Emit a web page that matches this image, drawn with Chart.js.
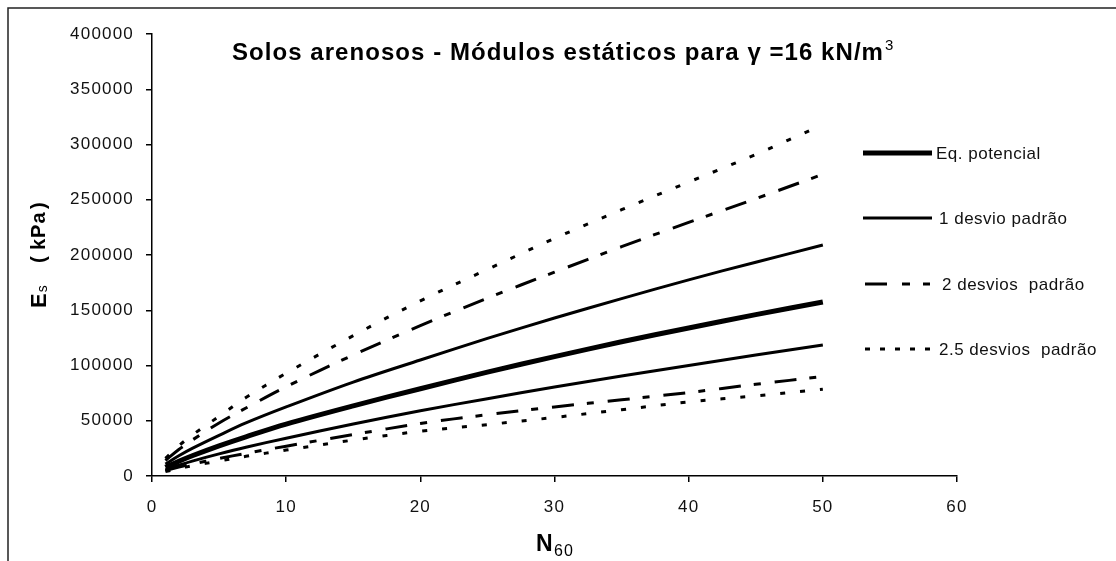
<!DOCTYPE html>
<html>
<head>
<meta charset="utf-8">
<script src="https://cdn.jsdelivr.net/npm/chart.js@4"></script>
<style>
  body { margin: 0; background: #fff; }
  #wrap { width: 1116px; height: 561px; }
</style>
</head>
<body>
<div id="wrap"><canvas id="chart" width="1116" height="561"></canvas></div>
<script>
"use strict";

// N60 values where the curves were read
const nValues = [1, 2, 3, 5, 7, 10, 15, 20, 25, 30, 35, 40, 45, 50];

// Es (kPa)
const eqPotencial = [7800, 13300, 18300, 27300, 35500, 47000, 63500, 79000, 94000, 108000, 121500, 134000, 146000, 157500];
const desvio1Sup = [10800, 18300, 25000, 36800, 48000, 62500, 85000, 105000, 124500, 143000, 160500, 177500, 193500, 209000];
const desvio1Inf = [5600, 9800, 13500, 20000, 26000, 34200, 47000, 59000, 70000, 80500, 90500, 100000, 109500, 118500];
const desvio2Sup = [14000, 24000, 32500, 48000, 61500, 80800, 109500, 136000, 161000, 184500, 207500, 229500, 251000, 273000];
const desvio2Inf = [5000, 8000, 10800, 15800, 20500, 27000, 37500, 47500, 55500, 62500, 69000, 75500, 83000, 90000];
const desvio25Sup = [16000, 27300, 37000, 54000, 71000, 93000, 127000, 158500, 187000, 215000, 241000, 266000, 291000, 318000];
const desvio25Inf = [4000, 6800, 9200, 13600, 17800, 23500, 32500, 40500, 46500, 53000, 60000, 67000, 72500, 78500];

const xTicks = [0, 10, 20, 30, 40, 50, 60];
const yTicks = [0, 50000, 100000, 150000, 200000, 250000, 300000, 350000, 400000];

const legendLabels = ['Eq. potencial', '1 desvio padrão', '2 desvios  padrão', '2.5 desvios  padrão'];

function pts(vals) {
  return vals.map((v, i) => ({ x: nValues[i], y: v }));
}

const dash2 = [22, 13, 7, 14];
const dash25 = [5, 15];

function ds(label, vals, width, dash, legendIdx) {
  return {
    label: label,
    data: pts(vals),
    borderColor: '#000',
    borderWidth: width,
    borderDash: dash,
    pointRadius: 0,
    fill: false,
    tension: 0.35,
    legendIdx: legendIdx
  };
}

const datasets = [
  ds(legendLabels[3], desvio25Sup, 3, dash25, 3),
  ds(legendLabels[2], desvio2Sup, 3, dash2, 2),
  ds(legendLabels[1], desvio1Sup, 3, [], 1),
  ds(legendLabels[0], eqPotencial, 5, [], 0),
  ds(legendLabels[1] + ' ', desvio1Inf, 3, [], -1),
  ds(legendLabels[2] + ' ', desvio2Inf, 3, dash2, -1),
  ds(legendLabels[3] + ' ', desvio25Inf, 3, dash25, -1)
];

const tickFont = { family: 'Liberation Sans, Arial, sans-serif', size: 17 };

const decorations = {
  id: 'decorations',
  beforeDraw(chart) {
    chart.ctx.letterSpacing = '1.2px';
  },
  afterDraw(chart) {
    const ctx = chart.ctx;
    ctx.save();
    ctx.fillStyle = '#000';

    // outer frame
    ctx.lineWidth = 1.5;
    ctx.strokeStyle = '#222';
    ctx.beginPath();
    ctx.moveTo(8, 561);
    ctx.lineTo(8, 8);
    ctx.lineTo(1116, 8);
    ctx.stroke();

    // title
    const main = 'Solos arenosos - Módulos estáticos para γ =16 kN/m';
    ctx.font = 'bold 24px Liberation Sans, Arial, sans-serif';
    ctx.letterSpacing = '0px';
    const w0 = ctx.measureText(main).width;
    const ls = Math.max(0, (652 - w0) / main.length);
    ctx.letterSpacing = ls + 'px';
    ctx.textBaseline = 'alphabetic';
    ctx.textAlign = 'left';
    ctx.fillText(main, 232, 60);
    ctx.letterSpacing = '0px';
    ctx.font = '15px Liberation Sans, Arial, sans-serif';
    ctx.fillText('3', 885, 50);

    // x axis title N60
    ctx.font = 'bold 23px Liberation Sans, Arial, sans-serif';
    ctx.fillText('N', 536, 551);
    ctx.font = '16px Liberation Sans, Arial, sans-serif';
    ctx.letterSpacing = '1px';
    ctx.fillText('60', 554, 556);

    // y axis title Es (kPa)
    ctx.save();
    ctx.translate(46, 308);
    ctx.rotate(-Math.PI / 2);
    ctx.letterSpacing = '0px';
    ctx.font = 'bold 22px Liberation Sans, Arial, sans-serif';
    ctx.fillText('E', 0, 0);
    const x = ctx.measureText('E').width + 1;
    ctx.font = '14px Liberation Sans, Arial, sans-serif';
    ctx.fillText('s', x, 1);
    ctx.font = 'bold 20px Liberation Sans, Arial, sans-serif';
    ctx.fillText('(', 45, -1);
    ctx.letterSpacing = '1px';
    ctx.fillText('kPa', 58, -1);
    ctx.letterSpacing = '0px';
    ctx.fillText(')', 99, -1);
    ctx.restore();

    // legend
    const rows = [
      { y: 153, x0: 863, tx: 936 },
      { y: 218, x0: 863, tx: 939 },
      { y: 284, x0: 865, tx: 942 },
      { y: 349, x0: 865, tx: 939 }
    ];
    ctx.font = '17px Liberation Sans, Arial, sans-serif';
    ctx.textBaseline = 'middle';
    chart.data.datasets.forEach(d => {
      if (d.legendIdx < 0) return;
      const r = rows[d.legendIdx];
      ctx.save();
      ctx.lineWidth = d.borderWidth;
      ctx.strokeStyle = '#000';
      if (d.legendIdx === 2) ctx.setLineDash([22, 15, 8, 13, 7, 20]);
      else if (d.legendIdx === 3) ctx.setLineDash([5, 10]);
      else ctx.setLineDash([]);
      ctx.beginPath();
      ctx.moveTo(r.x0, r.y);
      ctx.lineTo(932, r.y);
      ctx.stroke();
      ctx.restore();
      ctx.letterSpacing = '0.5px';
      ctx.fillStyle = '#111';
      ctx.fillText(d.label, r.tx, r.y + 1);
    });

    ctx.restore();
  }
};

new Chart(document.getElementById('chart'), {
  type: 'line',
  data: { datasets: datasets },
  options: {
    responsive: false,
    animation: false,
    devicePixelRatio: 1,
    layout: { padding: { top: 34, right: 159, left: 0, bottom: 0 } },
    plugins: {
      legend: { display: false },
      tooltip: { enabled: false },
      title: { display: false }
    },
    scales: {
      x: {
        type: 'linear',
        min: 0,
        max: 60,
        afterFit: s => { s.height = 85; },
        afterBuildTicks: s => { s.ticks = xTicks.map(v => ({ value: v })); },
        ticks: { font: tickFont, color: '#111', padding: 15, maxRotation: 0, callback: v => String(v) },
        grid: { drawOnChartArea: false, tickLength: 6, color: '#000', lineWidth: 1.5 },
        border: { color: '#000', width: 1.5 }
      },
      y: {
        min: 0,
        max: 400000,
        afterFit: s => { s.width = 152; },
        afterBuildTicks: s => { s.ticks = yTicks.map(v => ({ value: v })); },
        ticks: { font: tickFont, color: '#111', padding: 12, callback: v => String(v) },
        grid: { drawOnChartArea: false, tickLength: 6, color: '#000', lineWidth: 1.5 },
        border: { color: '#000', width: 1.5 }
      }
    }
  },
  plugins: [decorations]
});
</script>
</body>
</html>
